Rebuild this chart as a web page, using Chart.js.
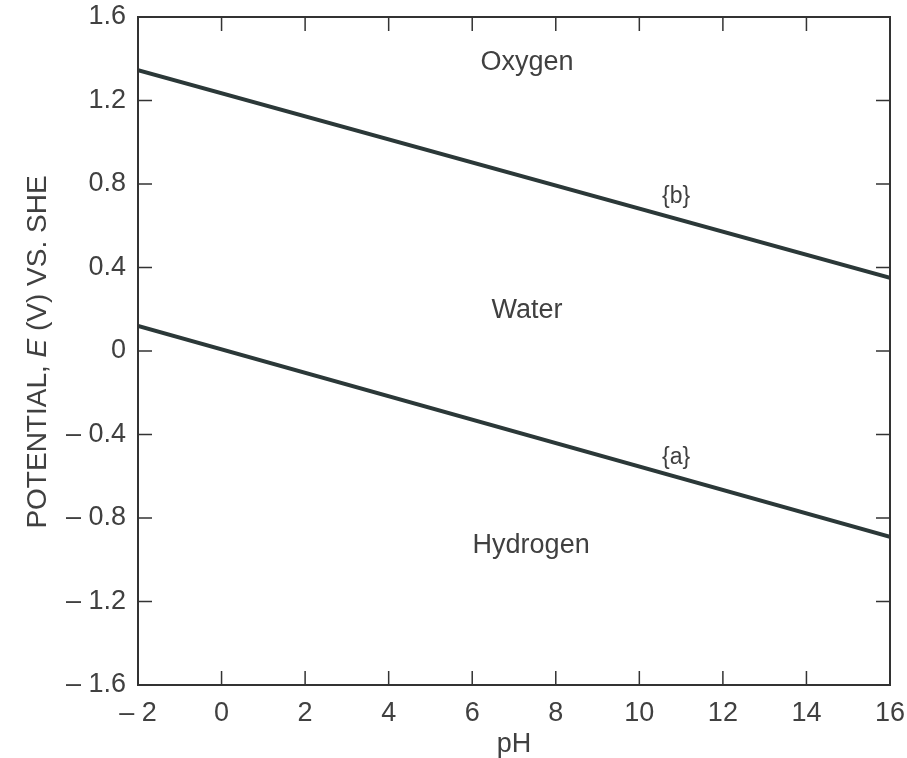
<!DOCTYPE html>
<html>
<head>
<meta charset="utf-8">
<script src="https://cdn.jsdelivr.net/npm/chart.js@4.4.1/dist/chart.umd.min.js"></script>
<style>
  html, body { margin: 0; padding: 0; background: #fff; }
  #wrap { width: 907px; height: 758px; }
</style>
</head>
<body>
<div id="wrap"><canvas id="phChart" width="907" height="758"></canvas></div>
<script>
// data
const phRange = [-2, 16];
const lineA = [0.12, -0.89];  // hydrogen line {a}
const lineB = [1.345, 0.35];  // oxygen line {b}
const xTicks = [-2, 0, 2, 4, 6, 8, 10, 12, 14, 16];
const yTicks = [-1.6, -1.2, -0.8, -0.4, 0, 0.4, 0.8, 1.2, 1.6];
const regionNames = ['Oxygen', 'Water', 'Hydrogen', '{b}', '{a}'];
const regionX = [7.31, 7.31, 7.41, 10.88, 10.88];
const regionY = [1.384, 0.196, -0.93, 0.738, -0.513];

const FONT = '"Liberation Sans", Arial, sans-serif';
const INK = '#404040';

function fmt(v, digits) {
    if (Math.abs(v) < 1e-9) return '0';
    const s = Math.abs(v).toFixed(digits);
    return v < 0 ? '\u2013 ' + s : s;
}

// frame, inward ticks, region labels and y title
const decor = {
    id: 'decor',
    afterDraw(chart) {
        const c = chart.ctx, a = chart.chartArea;
        const xs = chart.scales.x, ys = chart.scales.y;
        c.save();
        c.strokeStyle = '#333';
        c.lineWidth = 2;
        c.strokeRect(a.left, a.top, a.right - a.left, a.bottom - a.top);
        c.lineWidth = 1.5;
        const len = 14;
        c.beginPath();
        xTicks.forEach(t => {
            const px = xs.getPixelForValue(t);
            c.moveTo(px, a.bottom); c.lineTo(px, a.bottom - len);
            c.moveTo(px, a.top); c.lineTo(px, a.top + len);
        });
        yTicks.forEach(t => {
            const py = ys.getPixelForValue(t);
            c.moveTo(a.left, py); c.lineTo(a.left + len, py);
            c.moveTo(a.right, py); c.lineTo(a.right - len, py);
        });
        c.stroke();

        c.fillStyle = INK;
        c.textAlign = 'center';
        c.textBaseline = 'middle';
        regionNames.forEach((name, i) => {
            c.font = (name.startsWith('{') ? '23px ' : '27px ') + FONT;
            c.fillText(name, xs.getPixelForValue(regionX[i]), ys.getPixelForValue(regionY[i]));
        });

        // y title with italic E
        const parts = [['POTENTIAL, ', ''], ['E', 'italic '], [' (V) VS. SHE', '']];
        c.translate(38, 352);
        c.rotate(-Math.PI / 2);
        c.textAlign = 'left';
        let total = 0;
        parts.forEach(p => { c.font = p[1] + '28px ' + FONT; total += c.measureText(p[0]).width; });
        let x = -total / 2;
        parts.forEach(p => {
            c.font = p[1] + '28px ' + FONT;
            c.fillText(p[0], x, 0);
            x += c.measureText(p[0]).width;
        });
        c.restore();
    }
};

const ctx = document.getElementById('phChart').getContext('2d');
const chart = new Chart(ctx, {
    type: 'scatter',
    data: {
        datasets: [
            {
                label: '{a}',
                data: phRange.map((p, i) => ({ x: p, y: lineA[i] })),
                showLine: true,
                borderColor: '#2b3838',
                borderWidth: 4,
                pointRadius: 0
            },
            {
                label: '{b}',
                data: phRange.map((p, i) => ({ x: p, y: lineB[i] })),
                showLine: true,
                borderColor: '#2b3838',
                borderWidth: 4,
                pointRadius: 0
            }
        ]
    },
    options: {
        responsive: false,
        animation: false,
        layout: { padding: { top: 17, right: 17, left: 0, bottom: 0 } },
        plugins: { legend: { display: false }, tooltip: { enabled: false } },
        scales: {
            x: {
                type: 'linear',
                min: -2, max: 16,
                afterBuildTicks: s => { s.ticks = xTicks.map(v => ({ value: v })); },
                afterFit: s => { s.height = 73; s.paddingLeft = 0; s.paddingRight = 0; },
                grid: { display: false, drawTicks: false },
                border: { display: false },
                ticks: {
                    padding: 12,
                    color: INK,
                    font: { family: FONT, size: 27 },
                    callback: v => fmt(v, 0)
                },
                title: {
                    display: true,
                    text: 'pH',
                    color: INK,
                    font: { family: FONT, size: 27, lineHeight: 1.0 },
                    padding: { top: 0, bottom: 0 }
                }
            },
            y: {
                type: 'linear',
                min: -1.6, max: 1.6,
                afterBuildTicks: s => { s.ticks = yTicks.map(v => ({ value: v })); },
                afterFit: s => { s.width = 138; s.paddingTop = 0; s.paddingBottom = 0; },
                grid: { display: false, drawTicks: false },
                border: { display: false },
                ticks: {
                    padding: 12,
                    color: INK,
                    font: { family: FONT, size: 27 },
                    callback: v => fmt(v, 1)
                }
            }
        }
    },
    plugins: [decor]
});
</script>
</body>
</html>
